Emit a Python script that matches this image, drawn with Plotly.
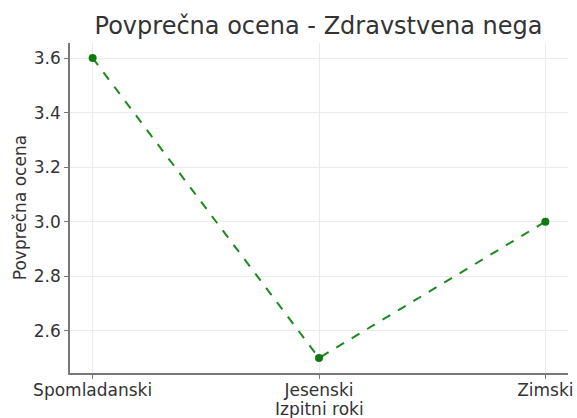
import plotly.graph_objects as go

categories = ["Spomladanski", "Jesenski", "Zimski"]
values = [3.6, 2.5, 3.0]
y_ticks = [2.6, 2.8, 3.0, 3.2, 3.4, 3.6]

fig = go.Figure()
fig.add_trace(go.Scatter(
    x=categories, y=values, mode="lines+markers",
    line=dict(color="#1a8a1a", width=2, dash="dash"),
    marker=dict(color="#0f7a0f", size=8),
))

fig.update_layout(
    width=577, height=418,
    margin=dict(l=70, r=9, t=43, b=45),
    paper_bgcolor="white", plot_bgcolor="white",
    font=dict(family="DejaVu Sans", size=17, color="#333333"),
    title=dict(text="Povprečna ocena - Zdravstvena nega", x=0.552, xanchor="center",
               y=0.939, yanchor="middle", font=dict(size=24, color="#333333")),
    showlegend=False,
    annotations=[
        dict(text="Izpitni roki", xref="paper", yref="paper", x=0.5, y=-0.1076,
             xanchor="center", yanchor="middle", showarrow=False,
             font=dict(size=17, color="#333333")),
        dict(text="Povprečna ocena", xref="paper", yref="paper", x=-0.1, y=0.5,
             xanchor="center", yanchor="middle", showarrow=False, textangle=-90,
             font=dict(size=17, color="#333333")),
    ],
)
fig.update_xaxes(
    type="category", range=[-0.1, 2.1], automargin=False,
    showline=True, linecolor="#777777", linewidth=1.5,
    ticks="outside", ticklen=4, tickcolor="#777777", ticklabelstandoff=-3,
    showgrid=True, gridcolor="#ebebeb", gridwidth=1,
    tickfont=dict(size=17),
)
fig.update_yaxes(
    range=[2.445, 3.655], tickvals=y_ticks, ticktext=[f"{v:.1f}" for v in y_ticks],
    automargin=False,
    showline=True, linecolor="#777777", linewidth=1.5,
    ticks="outside", ticklen=4, tickcolor="#777777",
    showgrid=True, gridcolor="#ebebeb", gridwidth=1, zeroline=False,
    tickfont=dict(size=17),
)

fig.write_html(
    "out.html",
    config={"displayModeBar": False},
    post_script="document.body.style.margin='0px';document.body.style.overflow='hidden';",
)
